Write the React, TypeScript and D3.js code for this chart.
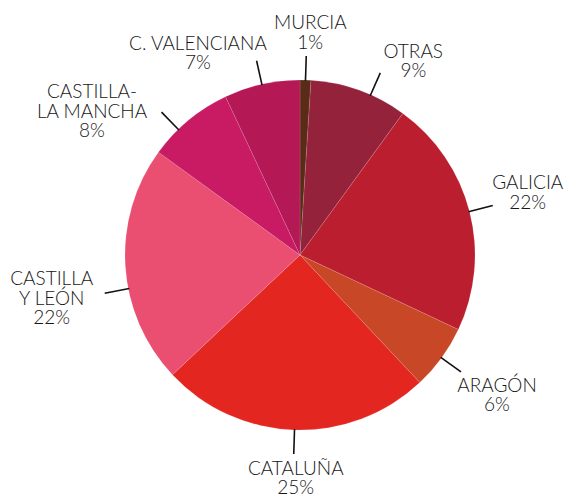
import React from "react";
import * as d3 from "d3";

const regions = ["MURCIA", "OTRAS", "GALICIA", "ARAGÓN", "CATALUÑA", "CASTILLA\nY LEÓN", "CASTILLA-\nLA MANCHA", "C. VALENCIANA"];
const shares = [1, 9, 22, 6, 25, 22, 8, 7];
const colors = ["#5a2c18", "#94223b", "#bb1e2e", "#c84727", "#e42620", "#ea4e71", "#c81b63", "#b41955"];

// layout (not data): leader angle nudge in degrees and label offset from leader end
const leaderNudge = [0, 4, 0, 0, 0, -7.5, -4.5, 0];
const labelOffset: [number, number][] = [
  [4, -27],
  [33, -15],
  [35, -16.5],
  [36, 20],
  [2, 21],
  [-53, -8],
  [-69.5, -14],
  [-58.6, -11],
];

const W = 566;
const H = 495;
const cx = 300;
const cy = 255;
const R = 175;

export default function App() {
  const pie = d3.pie<number>().sort(null).value((d) => d)(shares);
  const arc = d3.arc<d3.PieArcDatum<number>>().innerRadius(0).outerRadius(R);
  const lineH = 19.5;
  return (
    <svg width={W} height={H} style={{ position: "absolute", left: 0, top: 0 }}>
      <g transform={`translate(${cx},${cy})`}>
        {pie.map((p, i) => (
          <path key={i} d={arc(p) || ""} fill={colors[i]} stroke="#ffffff" strokeOpacity={0.2} strokeWidth={0.6} />
        ))}
        {pie.map((p, i) => {
          const a = (p.startAngle + p.endAngle) / 2 + (leaderNudge[i] * Math.PI) / 180;
          const x1 = Math.sin(a) * (R - 1);
          const y1 = -Math.cos(a) * (R - 1);
          const x2 = Math.sin(a) * (R + 24);
          const y2 = -Math.cos(a) * (R + 24);
          const lines = (regions[i] + "\n" + shares[i] + "%").split("\n");
          const tx = x2 + labelOffset[i][0];
          const ty = y2 + labelOffset[i][1];
          return (
            <g key={"l" + i}>
              <line x1={x1} y1={y1} x2={x2} y2={y2} stroke="#111" strokeWidth={1.6} />
              <text
                x={tx}
                y={ty}
                textAnchor="middle"
                fontFamily="Lato, 'Open Sans', sans-serif"
                fontWeight={300}
                fontSize={19}
                fill="#151515"
              >
                {lines.map((t, j) => (
                  <tspan key={j} x={tx} y={ty + j * lineH}>
                    {t}
                  </tspan>
                ))}
              </text>
            </g>
          );
        })}
      </g>
    </svg>
  );
}
